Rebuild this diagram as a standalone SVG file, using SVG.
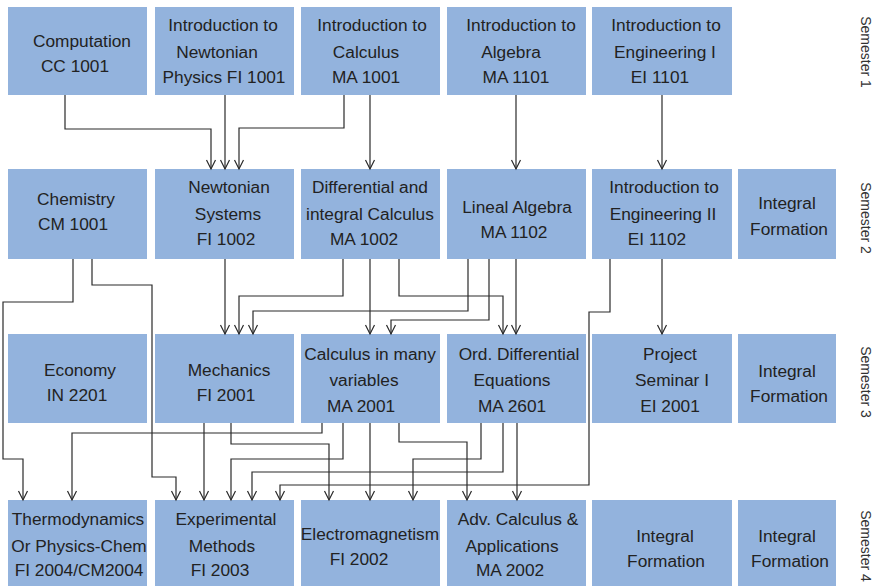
<svg xmlns="http://www.w3.org/2000/svg" width="874" height="586" viewBox="0 0 874 586">
  <defs>
    <style>
      .box { fill: #93b3dd; }
      .lbl { font-family: "Liberation Sans", Arial, Helvetica, sans-serif; font-size: 17.3px; fill: #222; text-anchor: middle; }
      .sem { font-family: "Liberation Sans", Arial, Helvetica, sans-serif; font-size: 14px; fill: #333; text-anchor: middle; }
      .wire { fill: none; stroke: #2a2a2a; stroke-width: 1.2; marker-end: url(#arrow); }
    </style>
    <marker id="arrow" viewBox="-10 -6 12 12" refX="0" refY="0" markerWidth="12" markerHeight="12" markerUnits="userSpaceOnUse" orient="auto">
      <path d="M-9,-4.5 L0,0 L-9,4.5" fill="none" stroke="#2a2a2a" stroke-width="1.2"/>
    </marker>
  </defs>
  <rect width="874" height="586" fill="#ffffff"/>

  <!-- Semester 1 -->
  <g id="cc1001"><rect class="box" x="8" y="7" width="139" height="88"/>
    <text class="lbl" x="82" y="47">Computation</text><text class="lbl" x="75" y="72">CC 1001</text></g>
  <g id="fi1001"><rect class="box" x="155" y="7" width="139" height="88"/>
    <text class="lbl" x="223" y="31">Introduction to</text><text class="lbl" x="217" y="58">Newtonian</text><text class="lbl" x="224" y="83">Physics FI 1001</text></g>
  <g id="ma1001"><rect class="box" x="301" y="7" width="139" height="88"/>
    <text class="lbl" x="372" y="31">Introduction to</text><text class="lbl" x="366" y="58">Calculus</text><text class="lbl" x="366" y="83">MA 1001</text></g>
  <g id="ma1101"><rect class="box" x="447" y="7" width="139" height="88"/>
    <text class="lbl" x="521" y="31">Introduction to</text><text class="lbl" x="511" y="58">Algebra</text><text class="lbl" x="516" y="83">MA 1101</text></g>
  <g id="ei1101"><rect class="box" x="592" y="7" width="140" height="88"/>
    <text class="lbl" x="666" y="31">Introduction to</text><text class="lbl" x="665" y="58">Engineering I</text><text class="lbl" x="660" y="83">EI 1101</text></g>

  <!-- Semester 2 -->
  <g id="cm1001"><rect class="box" x="8" y="169" width="139" height="90"/>
    <text class="lbl" x="76" y="205">Chemistry</text><text class="lbl" x="73" y="230">CM 1001</text></g>
  <g id="fi1002"><rect class="box" x="155" y="169" width="139" height="90"/>
    <text class="lbl" x="229" y="193">Newtonian</text><text class="lbl" x="228" y="220">Systems</text><text class="lbl" x="226" y="245">FI 1002</text></g>
  <g id="ma1002"><rect class="box" x="301" y="169" width="139" height="90"/>
    <text class="lbl" x="370" y="193">Differential and</text><text class="lbl" x="370" y="220">integral Calculus</text><text class="lbl" x="364" y="245">MA 1002</text></g>
  <g id="ma1102"><rect class="box" x="447" y="169" width="139" height="90"/>
    <text class="lbl" x="517" y="213">Lineal Algebra</text><text class="lbl" x="514" y="238">MA 1102</text></g>
  <g id="ei1102"><rect class="box" x="592" y="169" width="140" height="90"/>
    <text class="lbl" x="664" y="193">Introduction to</text><text class="lbl" x="663" y="220">Engineering II</text><text class="lbl" x="657" y="245">EI 1102</text></g>
  <g id="if2"><rect class="box" x="738" y="169" width="98" height="90"/>
    <text class="lbl" x="787" y="209">Integral</text><text class="lbl" x="789" y="235">Formation</text></g>

  <!-- Semester 3 -->
  <g id="in2201"><rect class="box" x="8" y="334" width="139" height="89"/>
    <text class="lbl" x="80" y="376">Economy</text><text class="lbl" x="77" y="401">IN 2201</text></g>
  <g id="fi2001"><rect class="box" x="155" y="334" width="139" height="89"/>
    <text class="lbl" x="229" y="376">Mechanics</text><text class="lbl" x="226" y="401">FI 2001</text></g>
  <g id="ma2001"><rect class="box" x="301" y="334" width="139" height="89"/>
    <text class="lbl" x="370" y="360">Calculus in many</text><text class="lbl" x="364" y="386">variables</text><text class="lbl" x="361" y="412">MA 2001</text></g>
  <g id="ma2601"><rect class="box" x="447" y="334" width="139" height="89"/>
    <text class="lbl" x="519" y="360">Ord. Differential</text><text class="lbl" x="512" y="386">Equations</text><text class="lbl" x="512" y="412">MA 2601</text></g>
  <g id="ei2001"><rect class="box" x="592" y="334" width="140" height="89"/>
    <text class="lbl" x="670" y="360">Project</text><text class="lbl" x="672" y="386">Seminar I</text><text class="lbl" x="670" y="412">EI 2001</text></g>
  <g id="if3"><rect class="box" x="738" y="334" width="98" height="89"/>
    <text class="lbl" x="787" y="377">Integral</text><text class="lbl" x="789" y="402">Formation</text></g>

  <!-- Semester 4 -->
  <g id="fi2004"><rect class="box" x="8" y="500" width="139" height="86"/>
    <text class="lbl" x="78" y="525">Thermodynamics</text><text class="lbl" x="79" y="552">Or Physics-Chem</text><text class="lbl" x="79" y="576">FI 2004/CM2004</text></g>
  <g id="fi2003"><rect class="box" x="155" y="500" width="139" height="86"/>
    <text class="lbl" x="226" y="525">Experimental</text><text class="lbl" x="222" y="552">Methods</text><text class="lbl" x="220" y="576">FI 2003</text></g>
  <g id="fi2002"><rect class="box" x="301" y="500" width="139" height="86"/>
    <text class="lbl" x="370" y="540">Electromagnetism</text><text class="lbl" x="359" y="565">FI 2002</text></g>
  <g id="ma2002"><rect class="box" x="447" y="500" width="139" height="86"/>
    <text class="lbl" x="518" y="525">Adv. Calculus &amp;</text><text class="lbl" x="512" y="552">Applications</text><text class="lbl" x="510" y="576">MA 2002</text></g>
  <g id="if4a"><rect class="box" x="592" y="500" width="140" height="86"/>
    <text class="lbl" x="665" y="542">Integral</text><text class="lbl" x="666" y="567">Formation</text></g>
  <g id="if4b"><rect class="box" x="738" y="500" width="98" height="86"/>
    <text class="lbl" x="787" y="542">Integral</text><text class="lbl" x="790" y="567">Formation</text></g>

  <!-- semester labels -->
  <g id="semesters">
    <text class="sem" transform="translate(861,52) rotate(90)">Semester 1</text>
    <text class="sem" transform="translate(861,218) rotate(90)">Semester 2</text>
    <text class="sem" transform="translate(861,382) rotate(90)">Semester 3</text>
    <text class="sem" transform="translate(861,546) rotate(90)">Semester 4</text>
  </g>

  <!-- prerequisite connectors -->
  <g id="connectors">
    <path class="wire" d="M65,95 V129 H211 V169"/>
    <path class="wire" d="M225,95 V169"/>
    <path class="wire" d="M344,95 V128 H239 V169"/>
    <path class="wire" d="M370,95 V169"/>
    <path class="wire" d="M516,95 V169"/>
    <path class="wire" d="M662,95 V169"/>

    <path class="wire" d="M73,259 V302 H3 V459 H23 V500"/>
    <path class="wire" d="M92,259 V285 H152 V477 H176 V500"/>
    <path class="wire" d="M225,259 V334"/>
    <path class="wire" d="M343,259 V296 H239 V334"/>
    <path class="wire" d="M468,259 V311 H253 V334"/>
    <path class="wire" d="M489,259 V320 H391 V334"/>
    <path class="wire" d="M370,259 V334"/>
    <path class="wire" d="M399,259 V296 H503 V334"/>
    <path class="wire" d="M516,259 V334"/>
    <path class="wire" d="M610,259 V312 H589 V485 H280 V500"/>
    <path class="wire" d="M662,259 V334"/>

    <path class="wire" d="M204,423 V500"/>
    <path class="wire" d="M231,423 V444 H329 V500"/>
    <path class="wire" d="M322,423 V433 H72 V500"/>
    <path class="wire" d="M343,423 V459 H231 V500"/>
    <path class="wire" d="M370,423 V500"/>
    <path class="wire" d="M399,423 V442 H467 V500"/>
    <path class="wire" d="M481,423 V459 H413 V500"/>
    <path class="wire" d="M503,423 V472 H252 V500"/>
    <path class="wire" d="M517,423 V500"/>
  </g>
</svg>
